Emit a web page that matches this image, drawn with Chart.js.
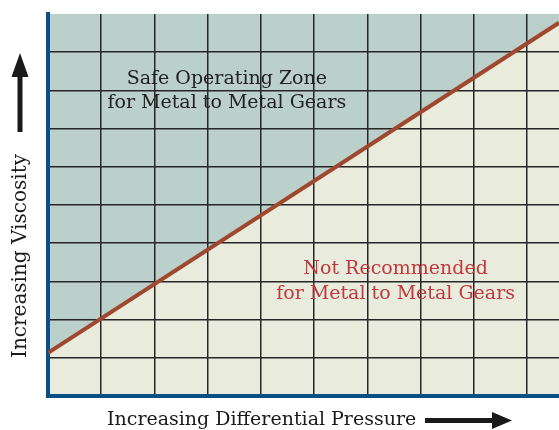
<!DOCTYPE html>
<html>
<head>
<meta charset="utf-8">
<script src="https://cdn.jsdelivr.net/npm/chart.js@4"></script>
<style>
  body { margin: 0; background: #fff; overflow: hidden; }
</style>
</head>
<body>
<canvas id="zoneChart" width="559" height="430"></canvas>
<script>
// boundary between the two zones (x = pressure grid units, y = viscosity grid units)
const boundaryX = [0, 9.6];
const boundaryY = [1.13, 9.77];

const safeLabel = ["Safe Operating Zone", "for Metal to Metal Gears"];
const badLabel = ["Not Recommended", "for Metal to Metal Gears"];
const xTitle = "Increasing Differential Pressure";
const yTitle = "Increasing Viscosity";

const points = boundaryX.map((x, i) => ({ x, y: boundaryY[i] }));

const serif = '"DejaVu Serif", serif';

const labelsPlugin = {
  id: "labels",
  afterDraw(chart) {
    const { ctx, scales } = chart;
    const x = scales.x, y = scales.y;
    ctx.save();
    ctx.textAlign = "center";
    ctx.textBaseline = "middle";
    ctx.font = "19px " + serif;

    ctx.fillStyle = "#222";
    ctx.fillText(safeLabel[0], x.getPixelForValue(3.36), y.getPixelForValue(8.3));
    ctx.fillText(safeLabel[1], x.getPixelForValue(3.36), y.getPixelForValue(7.66));

    ctx.fillStyle = "#c0393d";
    ctx.fillText(badLabel[0], x.getPixelForValue(6.53), y.getPixelForValue(3.32));
    ctx.fillText(badLabel[1], x.getPixelForValue(6.53), y.getPixelForValue(2.66));

    // x title with arrow
    ctx.fillStyle = "#1a1a1a";
    ctx.textAlign = "left";
    ctx.fillText(xTitle, 107, 420);
    ctx.fillRect(425, 418, 70, 5);
    ctx.beginPath();
    ctx.moveTo(492, 412);
    ctx.lineTo(512, 420.5);
    ctx.lineTo(492, 429);
    ctx.closePath();
    ctx.fill();

    // y title with arrow
    ctx.save();
    ctx.translate(21, 358);
    ctx.rotate(-Math.PI / 2);
    ctx.textAlign = "left";
    ctx.font = "20px " + serif;
    ctx.fillText(yTitle, 0, 0);
    ctx.restore();
    ctx.fillRect(17.5, 74, 5, 58);
    ctx.beginPath();
    ctx.moveTo(11.5, 77);
    ctx.lineTo(20, 53);
    ctx.lineTo(28.5, 77);
    ctx.closePath();
    ctx.fill();
    ctx.restore();
  }
};

const gridColor = edge => c => (c.tick && c.tick.value === edge ? "transparent" : "#262626");

new Chart(document.getElementById("zoneChart"), {
  type: "line",
  data: {
    datasets: [
      {
        data: points,
        borderColor: "#a0472f",
        borderWidth: 4,
        backgroundColor: "#bbd0ca",
        fill: "end",
        pointRadius: 0
      },
      {
        data: points,
        borderWidth: 0,
        backgroundColor: "#e9ebdc",
        fill: "start",
        pointRadius: 0
      }
    ]
  },
  options: {
    responsive: false,
    animation: false,
    layout: { padding: { left: 48, top: 14, right: 0, bottom: 34 } },
    plugins: {
      legend: { display: false },
      tooltip: { enabled: false },
      filler: { drawTime: "beforeDraw" }
    },
    scales: {
      x: {
        type: "linear",
        min: 0,
        max: 9.6,
        ticks: { display: false, stepSize: 1 },
        grid: { color: gridColor(9.6), lineWidth: 1.5, drawTicks: false },
        border: { color: "#0b4f86", width: 4 }
      },
      y: {
        min: 0,
        max: 10,
        ticks: { display: false, stepSize: 1 },
        grid: { color: gridColor(10), lineWidth: 1.5, drawTicks: false },
        border: { color: "#0b4f86", width: 4 }
      }
    }
  },
  plugins: [labelsPlugin]
});
</script>
</body>
</html>
